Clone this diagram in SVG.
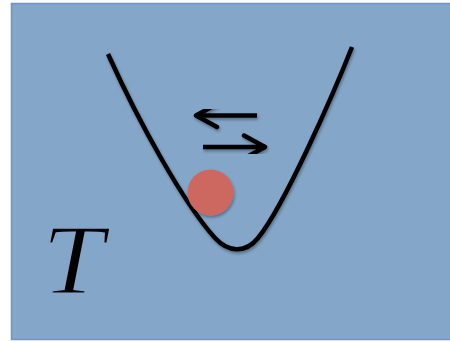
<svg xmlns="http://www.w3.org/2000/svg" width="450" height="342" viewBox="0 0 450 342">
<defs>
<filter id="sh" x="-20%" y="-20%" width="140%" height="140%">
<feDropShadow dx="1" dy="2" stdDeviation="1.5" flood-color="#000" flood-opacity="0.35"/>
</filter>
<marker id="ah" viewBox="0 0 28 28" refX="24" refY="14" markerWidth="28" markerHeight="28" markerUnits="userSpaceOnUse" orient="auto">
<path d="M3,2.5 L24,14 L3,25.5" fill="none" stroke="#000" stroke-width="4.5" stroke-linecap="round" stroke-linejoin="round"/>
</marker>
<style>
.ln{fill:none;stroke:#000;stroke-width:4.5;stroke-linecap:butt}
</style>
</defs>
<rect x="0" y="0" width="450" height="342" fill="#fff"/>
<g id="box">
<rect x="11.5" y="3.5" width="445" height="336" fill="#84A6C8" stroke="#6E96C4" stroke-width="1.5"/>
</g>
<g id="well" filter="url(#sh)">
<path class="ln" d="M108,54 C140,125 185,205 215,238 C228,252 245,254 258,238 C285,205 335,90 352,47"/>
</g>
<g id="ball" filter="url(#sh)">
<circle cx="210.5" cy="192.5" r="23" fill="#CC6860"/>
</g>
<g id="connectors" filter="url(#sh)">
<line class="ln" x1="257" y1="115.5" x2="196" y2="115.5" marker-end="url(#ah)"/>
<line class="ln" x1="203" y1="147" x2="265" y2="147" marker-end="url(#ah)"/>
</g>
<g id="label">
<text x="0" y="0" transform="translate(42,293) scale(1.12,1)" font-family="Liberation Serif, serif" font-style="italic" font-size="99" fill="#000" stroke="#84A6C8" stroke-width="1.6">T</text>
</g>
</svg>
